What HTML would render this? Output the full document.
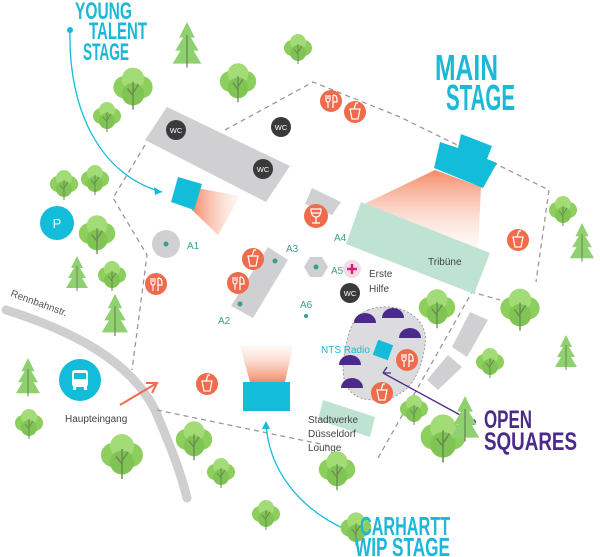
<!DOCTYPE html>
<html><head><meta charset="utf-8"><style>
html,body{margin:0;padding:0;background:#fff}
svg{display:block}
.t{font-family:"Liberation Sans",sans-serif}
.h{font-family:"Liberation Sans",sans-serif;font-weight:bold;fill:#1bb8d8}
</style></head><body>
<svg width="600" height="557" viewBox="0 0 600 557" xmlns="http://www.w3.org/2000/svg">
<defs>
<linearGradient id="g1" x1="0" y1="0" x2="1" y2="0"><stop offset="0" stop-color="#f48a68"/><stop offset="1" stop-color="#fbe6dc" stop-opacity="0.3"/></linearGradient>
<linearGradient id="g2" x1="0" y1="0" x2="0" y2="1"><stop offset="0" stop-color="#f48a68"/><stop offset="1" stop-color="#fde8df" stop-opacity="0.2"/></linearGradient>
<linearGradient id="g3" x1="0" y1="1" x2="0" y2="0"><stop offset="0" stop-color="#f48a68"/><stop offset="1" stop-color="#fde8df" stop-opacity="0.3"/></linearGradient>
<g id="rt"><circle cx="-6" cy="-2" r="8" fill="#8ccf5c"/><circle cx="6" cy="-2" r="8" fill="#8ccf5c"/><circle cx="0" cy="-8" r="8" fill="#a3dc77"/><circle cx="0" cy="3" r="8" fill="#80c553"/><line x1="0" y1="-6" x2="0" y2="14" stroke="#6a8a55" stroke-width="1"/><line x1="0" y1="4" x2="-4" y2="-1" stroke="#6a8a55"/><line x1="0" y1="2" x2="4" y2="-4" stroke="#6a8a55"/></g>
<g id="pt"><polygon points="0,-20 6,-8 3,-8 9,2 5,2 11,12 -11,12 -5,2 -9,2 -3,-8 -6,-8" fill="#8fd070"/><line x1="0" y1="-10" x2="0" y2="15" stroke="#6a8a55"/></g>
<g id="fk"><circle r="11" fill="#ef6b4c"/><path d="M-5,-6v5a2,2 0 0 0 2,2v6M-3,-6v4M-1,-6v5a2,2 0 0 1-2,2M2,-6v13M2,-6q4,0 4,5v2h-4" stroke="#fff" stroke-width="1.2" fill="none"/></g>
<g id="dk"><circle r="11" fill="#ef6b4c"/><path d="M-5,-3h10l-2,10h-6z M-1,-3l2,-6h2" stroke="#fff" stroke-width="1.2" fill="none"/></g>
<g id="wc"><circle r="10" fill="#3a3a3a"/><text x="0" y="3" font-size="7.5" fill="#fff" text-anchor="middle" class="t">WC</text></g>
</defs>

<path d="M6,310 C70,330 130,360 155,410 C170,445 180,470 187,498" stroke="#cfcfd1" stroke-width="9" fill="none" stroke-linecap="round"/>
<text x="10" y="296" font-size="10" fill="#555" class="t" transform="rotate(20 10 296)">Rennbahnstr.</text>

<g stroke="#999" stroke-width="1.3" stroke-dasharray="5,4" fill="none">
<path d="M145,145 L113,198 L147,255 L132,370"/>
<path d="M225,130 L313,82 L400,117 L549,190 L536,282"/>
<path d="M157,410 L330,446"/>
<path d="M378,458 L472,292 L500,300"/>
</g>

<polygon points="145,140 167,107 290,166 266,202" fill="#d0d0d2"/>
<use href="#wc" x="176" y="130"/><use href="#wc" x="263" y="169"/><use href="#wc" x="281" y="127"/><use href="#wc" x="350" y="293"/>

<polygon points="197,188 240,196 218,235 192,210" fill="url(#g1)"/>
<polygon points="178,177 202,184 194,210 171,202" fill="#13bcd9"/>

<polygon points="312,188 341,202 332,215 305,204" fill="#d0d0d2"/>
<g transform="translate(316,216)"><circle r="12" fill="#ef6b4c"/><path d="M-5,-7h10q0,8-5,8q-5,0-5-8zM0,1v6M-4,7h8M-4,-3h8" stroke="#fff" stroke-width="1.2" fill="none"/></g>

<circle cx="166" cy="244" r="14" fill="#d0d0d2"/><circle cx="166" cy="244" r="2.5" fill="#3a9e8c"/>
<text x="187" y="249" font-size="10" fill="#3a9e8c" class="t">A1</text>
<use href="#fk" x="156" y="284"/>

<polygon points="268,247 288,260 253,318 231,306" fill="#d0d0d2"/>
<circle cx="275" cy="261" r="2.5" fill="#3a9e8c"/><circle cx="240" cy="304" r="2.5" fill="#3a9e8c"/>
<use href="#dk" x="253" y="259"/><use href="#fk" x="238" y="283"/>
<text x="286" y="252" font-size="10" fill="#3a9e8c" class="t">A3</text>
<text x="218" y="324" font-size="10" fill="#3a9e8c" class="t">A2</text>

<polygon points="304,267 310,257 322,257 328,267 322,277 310,277" fill="#d0d0d2"/><circle cx="316" cy="267" r="2.5" fill="#3a9e8c"/>
<text x="331" y="274" font-size="10" fill="#3a9e8c" class="t">A5</text>
<text x="300" y="308" font-size="10" fill="#3a9e8c" class="t">A6</text><circle cx="306" cy="316" r="2" fill="#3a9e8c"/>
<text x="334" y="241" font-size="10" fill="#3a9e8c" class="t">A4</text><circle cx="359" cy="238" r="2" fill="#3a9e8c"/>

<polygon points="435,170 481,187 478,250 400,220 362,205" fill="url(#g2)"/>
<polygon points="361,202 490,253 474,294 346,244" fill="#bfe3d2"/>
<text x="428" y="265" font-size="10" fill="#444" class="t">Tribüne</text>

<circle cx="352" cy="269" r="9" fill="#f2dde6"/><path d="M352,264v10M347,269h10" stroke="#e0207a" stroke-width="2.5"/>
<text x="369" y="277" font-size="10" fill="#444" class="t">Erste</text>
<text x="369" y="292" font-size="10" fill="#444" class="t">Hilfe</text>

<polygon points="440,142 458,148 461,134 492,146 487,159 497,163 483,188 434,168" fill="#13bcd9"/>
<use href="#fk" x="331" y="101"/><use href="#dk" x="355" y="112"/><use href="#dk" x="518" y="240"/>

<circle cx="57" cy="223" r="17" fill="#13bcd9"/><text x="57" y="228" font-size="13" fill="#fff" text-anchor="middle" class="t">P</text>

<path d="M368,310 C395,300 430,315 425,345 C420,380 405,400 375,400 C350,400 338,385 345,350 C350,325 355,315 368,310Z" fill="#dcdcde" stroke="#888" stroke-width="0.8" stroke-dasharray="2,2"/>
<g fill="#4a2a8a">
<path d="M354,323 a11,10 0 0 1 22,0z"/><path d="M382,318 a11,10 0 0 1 22,0z"/><path d="M399,338 a11,10 0 0 1 22,0z"/>
<path d="M339,365 a11,10 0 0 1 22,0z"/><path d="M341,388 a11,10 0 0 1 22,0z"/>
</g>
<rect x="375" y="342" width="16" height="16" fill="#13bcd9" transform="rotate(20 383 350)"/>
<text x="321" y="353" font-size="10" fill="#13bcd9" class="t">NTS Radio</text>
<use href="#fk" x="407" y="360"/><use href="#dk" x="382" y="393"/>
<path d="M473,422 L383,373" stroke="#4a2a8a" stroke-width="1.3"/><circle cx="473" cy="422" r="3" fill="#4a2a8a"/>
<path d="M383,373 l8,0 M383,373 l4,-6" stroke="#4a2a8a" stroke-width="1.3"/>

<polygon points="452,347 470,312 488,320 467,357" fill="#d0d0d2"/>
<polygon points="427,380 448,355 462,367 438,390" fill="#d0d0d2"/>

<polygon points="323,400 375,417 370,437 318,420" fill="#bfe3d2"/>
<text x="308" y="423" font-size="10" fill="#444" class="t">Stadtwerke</text>
<text x="308" y="437" font-size="10" fill="#444" class="t">Düsseldorf</text>
<text x="308" y="451" font-size="10" fill="#444" class="t">Lounge</text>

<polygon points="240,346 293,346 285,382 250,382" fill="url(#g3)"/>
<rect x="243" y="382" width="47" height="29" fill="#13bcd9"/>
<use href="#dk" x="207" y="384"/>

<path d="M120,405 L157,383 M146,383 L157,383 L152,393" stroke="#ef6b4c" stroke-width="2" fill="none"/>
<circle cx="80" cy="380" r="21" fill="#13bcd9"/>
<rect x="72" y="370" width="16" height="17" rx="3" fill="#fff"/><rect x="74" y="373" width="12" height="6" fill="#13bcd9"/><rect x="73" y="386" width="3" height="4" fill="#fff"/><rect x="84" y="386" width="3" height="4" fill="#fff"/>
<text x="65" y="422" font-size="10" fill="#444" class="t">Haupteingang</text>

<circle cx="70" cy="30" r="3" fill="#13bcd9"/>
<path d="M70,30 C68,110 100,175 162,192" stroke="#13bcd9" stroke-width="1.3" fill="none"/>
<path d="M162,192 l-8,-5 l1,8z" fill="#13bcd9"/>
<path d="M349,531 C300,510 268,470 266,422" stroke="#13bcd9" stroke-width="1.3" fill="none"/>
<path d="M266,421 l-4,8 h8z" fill="#13bcd9"/>

<use href="#rt" transform="translate(133,90) scale(1.4)"/>
<use href="#rt" transform="translate(107,118)"/>
<use href="#rt" transform="translate(238,84) scale(1.3)"/>
<use href="#rt" transform="translate(298,50)"/>
<use href="#rt" transform="translate(64,186)"/>
<use href="#rt" transform="translate(95,181)"/>
<use href="#rt" transform="translate(97,236) scale(1.3)"/>
<use href="#rt" transform="translate(112,277)"/>
<use href="#rt" transform="translate(563,212)"/>
<use href="#rt" transform="translate(520,311) scale(1.4)"/>
<use href="#rt" transform="translate(437,310) scale(1.3)"/>
<use href="#rt" transform="translate(414,411)"/>
<use href="#rt" transform="translate(443,440) scale(1.6)"/>
<use href="#rt" transform="translate(490,364)"/>
<use href="#rt" transform="translate(29,425)"/>
<use href="#rt" transform="translate(122,458) scale(1.5)"/>
<use href="#rt" transform="translate(194,442) scale(1.3)"/>
<use href="#rt" transform="translate(221,474)"/>
<use href="#rt" transform="translate(266,516)"/>
<use href="#rt" transform="translate(337,472) scale(1.3)"/>
<use href="#rt" transform="translate(356,530) scale(1.1)"/>
<use href="#pt" transform="translate(187,48) scale(1.3)"/>
<use href="#pt" transform="translate(77,276)"/>
<use href="#pt" transform="translate(115,318) scale(1.2)"/>
<use href="#pt" transform="translate(28,380) scale(1.1)"/>
<use href="#pt" transform="translate(465,422) scale(1.3)"/>
<use href="#pt" transform="translate(566,355)"/>
<use href="#pt" transform="translate(582,245) scale(1.1)"/>

<text x="75" y="19" font-size="24" class="h" textLength="57" lengthAdjust="spacingAndGlyphs">YOUNG</text>
<text x="89" y="39" font-size="24" class="h" textLength="58" lengthAdjust="spacingAndGlyphs">TALENT</text>
<text x="83" y="60" font-size="24" class="h" textLength="46" lengthAdjust="spacingAndGlyphs">STAGE</text>
<text x="435" y="80" font-size="36" class="h" textLength="63" lengthAdjust="spacingAndGlyphs">MAIN</text>
<text x="446" y="110" font-size="36" class="h" textLength="69" lengthAdjust="spacingAndGlyphs">STAGE</text>
<text x="484" y="428" font-size="25" class="h" style="fill:#4a2a8a" textLength="48" lengthAdjust="spacingAndGlyphs">OPEN</text>
<text x="484" y="450" font-size="25" class="h" style="fill:#4a2a8a" textLength="93" lengthAdjust="spacingAndGlyphs">SQUARES</text>
<text x="360" y="535" font-size="26" class="h" textLength="90" lengthAdjust="spacingAndGlyphs">CARHARTT</text>
<text x="355" y="556" font-size="26" class="h" textLength="95" lengthAdjust="spacingAndGlyphs">WIP STAGE</text>
</svg>
</body></html>
